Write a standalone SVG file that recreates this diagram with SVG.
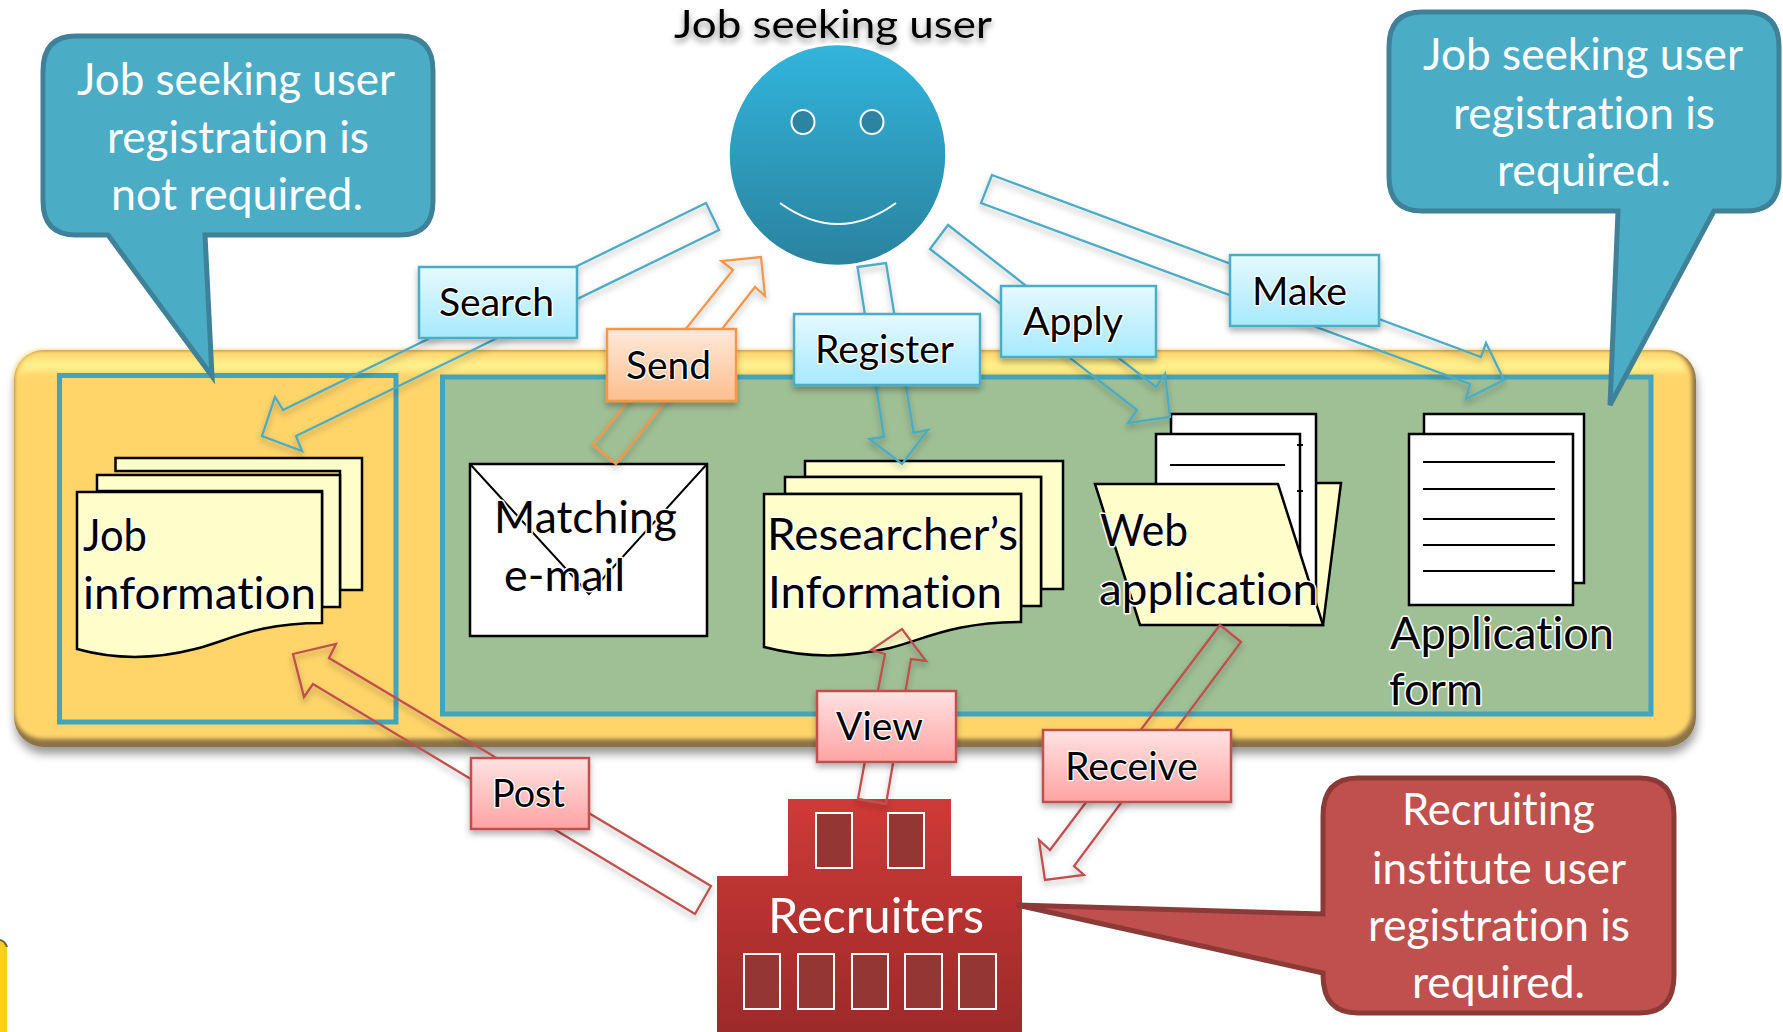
<svg xmlns="http://www.w3.org/2000/svg" width="1783" height="1032" viewBox="0 0 1783 1032">
<style>
text{font-family:Lato,"Open Sans","Liberation Sans",sans-serif;font-size:44px;font-variant-ligatures:none;transform:translateY(1px)}
.w{fill:#fff}
.k{fill:#000;stroke:#fff;stroke-width:3px;paint-order:stroke;stroke-linejoin:round}
.l{fill:#000;stroke:#fff;stroke-width:2.5px;paint-order:stroke;stroke-linejoin:round;font-size:38px}
.doc{fill:#FFFFCC;stroke:#000;stroke-width:2.5}
.pg{fill:#fff;stroke:#000;stroke-width:2.5}
.ln{fill:none;stroke:#000;stroke-width:2}
.ba{fill:none;stroke:#4BACC6;stroke-width:2.3;filter:url(#sh)}
.oa{fill:none;stroke:#F79646;stroke-width:2.3;filter:url(#sh)}
.ra{fill:none;stroke:#C0504D;stroke-width:2.3;filter:url(#sh)}
.bl{fill:url(#gb);stroke:#4BACC6;stroke-width:2.5;filter:url(#sh)}
.ol{fill:url(#go);stroke:#F79646;stroke-width:2.5;filter:url(#sh)}
.rl{fill:url(#gr);stroke:#C0504D;stroke-width:2.5;filter:url(#sh)}
.bc{fill:#4BACC6;stroke:#3F8198;stroke-width:5;stroke-linejoin:miter}
.win{fill:#943634;stroke:#fff;stroke-width:2}
</style>
<defs>
<filter id="sh" x="-20%" y="-20%" width="140%" height="140%"><feDropShadow dx="0" dy="4" stdDeviation="3" flood-color="#000" flood-opacity=".3"/></filter>
<filter id="psh" x="-3%" y="-5%" width="106%" height="115%"><feDropShadow dx="1" dy="7" stdDeviation="5" flood-color="#000" flood-opacity=".4"/></filter>
<filter id="soft" x="-2%" y="-5%" width="104%" height="110%"><feGaussianBlur stdDeviation="2"/></filter>
<filter id="ts" x="-10%" y="-30%" width="120%" height="170%"><feDropShadow dx="0" dy="4" stdDeviation="3" flood-color="#000" flood-opacity=".45"/></filter>
<linearGradient id="gb" x1="0" y1="0" x2="0" y2="1"><stop offset="0" stop-color="#E6F9FF"/><stop offset="1" stop-color="#A6E9FF"/></linearGradient>
<linearGradient id="go" x1="0" y1="0" x2="0" y2="1"><stop offset="0" stop-color="#FFE9DB"/><stop offset="1" stop-color="#FDBE8C"/></linearGradient>
<linearGradient id="gr" x1="0" y1="0" x2="0" y2="1"><stop offset="0" stop-color="#FFE2E2"/><stop offset="1" stop-color="#FFA3A3"/></linearGradient>
<linearGradient id="gf" x1="0" y1="0" x2="0" y2="1"><stop offset="0" stop-color="#31B5DC"/><stop offset="1" stop-color="#2A829E"/></linearGradient>
<linearGradient id="gy" x1="0" y1="0" x2="0" y2="1"><stop offset="0" stop-color="#FFD873"/><stop offset=".45" stop-color="#FFF38E"/><stop offset="1" stop-color="#FFD66B"/></linearGradient>
<linearGradient id="gd" x1="0" y1="0" x2="0" y2="1"><stop offset="0" stop-color="#CF3A37"/><stop offset="1" stop-color="#9C2A2A"/></linearGradient>
</defs>
<rect width="1783" height="1032" fill="#fff"/>
<path d="M0 941q5 1 7 7V1032H0Z" fill="#FCCF1E"/>
<path d="M0 940q5 1 7 7" fill="none" stroke="#6e6243" stroke-width="2"/>
<g transform="translate(0,1)">
<g id="panel">
<rect x="14" y="349" width="1682" height="397" rx="30" fill="#8C7345" filter="url(#psh)"/>
<rect x="14" y="349" width="1678" height="389" rx="28" fill="#FFD56B" filter="url(#soft)"/>
<path d="M18 378Q20 353 44 353H1664Q1682 353 1686 372H34Q24 372 18 378Z" fill="url(#gy)" filter="url(#soft)"/>
</g>
<g id="frame-open"><rect x="59.5" y="374.5" width="336.5" height="346.5" fill="none" stroke="#41A5C0" stroke-width="5"/></g>
<g id="frame-registered"><rect x="442.5" y="376" width="1208.5" height="337" fill="#9FBF95" stroke="#41A5C0" stroke-width="5"/></g>

<g id="job-information">
<path class="doc" d="M115.5 457H362V589H340V470H115.5Z"/>
<path class="doc" d="M97 474H340V606H322V490H97Z"/>
<path class="doc" d="M77 491H322V622C255 622 228 640 195 648C160 657 120 660 77 648Z"/>
<text class="k" x="83" y="549" textLength="64" lengthAdjust="spacingAndGlyphs">Job</text>
<text class="k" x="83" y="607" textLength="233" lengthAdjust="spacingAndGlyphs">information</text>
</g>
<g id="matching-email">
<rect class="pg" x="470" y="463" width="237" height="172" stroke-width="3"/>
<path class="ln" d="M470 463L589 593L707 463"/>
<text class="k" x="494" y="531" textLength="183" lengthAdjust="spacingAndGlyphs">Matching</text>
<text class="k" x="504" y="589" textLength="121" lengthAdjust="spacingAndGlyphs">e-mail</text>
</g>
<g id="researcher-information">
<path class="doc" d="M805 460H1063V588H1041V476H805Z"/>
<path class="doc" d="M785 476H1041V605H1021V493H785Z"/>
<path class="doc" d="M764 493H1021V621C955 621 925 638 890 647C850 656 810 658 764 646Z"/>
<text class="k" x="767" y="548" textLength="251" lengthAdjust="spacingAndGlyphs">Researcher’s</text>
<text class="k" x="768" y="606" textLength="234" lengthAdjust="spacingAndGlyphs">Information</text>
</g>
<g id="web-application">
<path class="doc" d="M1290 482H1341L1323 624H1290Z"/>
<rect class="pg" x="1171" y="413" width="145" height="190"/>
<rect class="pg" x="1156" y="433" width="144" height="170"/>
<path class="ln" d="M1170 464H1285M1297 444h6M1297 490h6"/>
<path class="doc" d="M1095 483H1278L1323 624H1140Z"/>
<text class="k" x="1100" y="544" textLength="88" lengthAdjust="spacingAndGlyphs">Web</text>
<text class="k" x="1099" y="603" textLength="219" lengthAdjust="spacingAndGlyphs">application</text>
</g>
<g id="application-form">
<rect class="pg" x="1424" y="413" width="160" height="169"/>
<rect class="pg" x="1409" y="433" width="164" height="171"/>
<path class="ln" d="M1423 461H1555M1423 488H1555M1423 518H1555M1423 544H1555M1423 570H1555"/>
<text class="k" x="1390" y="647" textLength="224" lengthAdjust="spacingAndGlyphs">Application</text>
<text class="k" x="1389" y="703" textLength="94" lengthAdjust="spacingAndGlyphs">form</text>
</g>

<g id="job-seeking-user">
<text x="674" y="36" textLength="318" lengthAdjust="spacingAndGlyphs" filter="url(#ts)" style="font-size:38px">Job seeking user</text>
<ellipse cx="837.5" cy="154" rx="109" ry="111" fill="url(#gf)" stroke="#fff" stroke-width="2.5"/>
<ellipse cx="803" cy="121" rx="11.5" ry="12" fill="#2C84A2" stroke="#fff" stroke-width="2"/>
<ellipse cx="872" cy="121" rx="11.5" ry="12" fill="#2C84A2" stroke="#fff" stroke-width="2"/>
<path d="M780 202Q838 244 896 202" fill="none" stroke="#fff" stroke-width="2"/>
</g>
<g id="recruiters">
<path d="M788 798H951V875H1022V1032H717V875H788Z" fill="url(#gd)"/>
<rect class="win" x="816" y="812" width="36" height="55"/>
<rect class="win" x="888" y="812" width="36" height="55"/>
<text class="w" x="768" y="931" textLength="216" lengthAdjust="spacingAndGlyphs" style="font-size:48px">Recruiters</text>
<rect class="win" x="744" y="953" width="36" height="55"/>
<rect class="win" x="798" y="953" width="36" height="55"/>
<rect class="win" x="852" y="953" width="36" height="55"/>
<rect class="win" x="905" y="953" width="37" height="55"/>
<rect class="win" x="959" y="953" width="37" height="55"/>
</g>

<g id="connectors">
<path class="ba" d="M706 202L283 409L275 396L262 435L302 450L296 435L719 229Z"/>
<path class="oa" d="M616 463L755 286L765 295L761 256L721.5 260L733 269L593 444Z"/>
<path class="ba" d="M857.5 266L886 262L913.6 432L928 429L902 463L869.5 438L884 436Z"/>
<path class="ba" d="M948 224L1156 386L1165 373L1170 416L1128 422L1137 409L930 248Z"/>
<path class="ba" d="M992 174L1481 356L1486 342L1504 379L1466 398L1470 383L981 202Z"/>
<path class="ra" d="M711 885L329 657L336 643L293 653L304 696L313 683L695 913Z"/>
<path class="ra" d="M858 798L878 689L885 653L871 649L902 628L926 660L911 658L886 803Z"/>
<path class="ra" d="M1220 624L1241 641L1074 865L1084 874L1045 879L1039 839L1050 849Z"/>
</g>

<g id="callout-open">
<path class="bc" d="M76 35H400Q433 35 433 70V200Q433 234 400 234H205L212 375L108 234H76Q43 234 43 200V70Q43 35 76 35Z"/>
<text class="w" x="77" y="93" textLength="318" lengthAdjust="spacingAndGlyphs">Job seeking user</text>
<text class="w" x="107" y="151" textLength="262" lengthAdjust="spacingAndGlyphs">registration is</text>
<text class="w" x="111" y="208" textLength="252" lengthAdjust="spacingAndGlyphs">not required.</text>
</g>
<g id="callout-required">
<path class="bc" d="M1422 11H1746Q1779 11 1779 46V176Q1779 210 1746 210H1714L1610 404L1618 210H1422Q1389 210 1389 176V46Q1389 11 1422 11Z"/>
<text class="w" x="1423" y="68" textLength="320" lengthAdjust="spacingAndGlyphs">Job seeking user</text>
<text class="w" x="1453" y="127" textLength="262" lengthAdjust="spacingAndGlyphs">registration is</text>
<text class="w" x="1497" y="184" textLength="174" lengthAdjust="spacingAndGlyphs">required.</text>
</g>
<g id="callout-recruiting">
<path d="M1358 777H1640Q1674 777 1674 815V974Q1674 1012 1640 1012H1358Q1323 1012 1323 974V972L1017 904L1323 913V815Q1323 777 1358 777Z" fill="#C0504D" stroke="#8C3A38" stroke-width="5"/>
<text class="w" x="1402" y="823" textLength="193" lengthAdjust="spacingAndGlyphs">Recruiting</text>
<text class="w" x="1372" y="882" textLength="254" lengthAdjust="spacingAndGlyphs">institute user</text>
<text class="w" x="1368" y="939" textLength="262" lengthAdjust="spacingAndGlyphs">registration is</text>
<text class="w" x="1412" y="996" textLength="173" lengthAdjust="spacingAndGlyphs">required.</text>
</g>

<g id="label-search"><rect class="bl" x="419" y="266" width="158" height="71"/><text class="l" x="439" y="314" textLength="115" lengthAdjust="spacingAndGlyphs">Search</text></g>
<g id="label-send"><rect class="ol" x="607" y="328" width="129" height="72"/><text class="l" x="626" y="377" textLength="85" lengthAdjust="spacingAndGlyphs">Send</text></g>
<g id="label-register"><rect class="bl" x="794" y="313" width="186" height="71"/><text class="l" x="815" y="361" textLength="139" lengthAdjust="spacingAndGlyphs">Register</text></g>
<g id="label-apply"><rect class="bl" x="1001" y="285" width="155" height="71"/><text class="l" x="1023" y="333" textLength="100" lengthAdjust="spacingAndGlyphs">Apply</text></g>
<g id="label-make"><rect class="bl" x="1230" y="254" width="149" height="71"/><text class="l" x="1252" y="303" textLength="95" lengthAdjust="spacingAndGlyphs">Make</text></g>
<g id="label-post"><rect class="rl" x="471" y="757" width="118" height="71"/><text class="l" x="492" y="805" textLength="73" lengthAdjust="spacingAndGlyphs">Post</text></g>
<g id="label-view"><rect class="rl" x="817" y="690" width="139" height="71"/><text class="l" x="836" y="738" textLength="87" lengthAdjust="spacingAndGlyphs">View</text></g>
<g id="label-receive"><rect class="rl" x="1043" y="729" width="188" height="72"/><text class="l" x="1065" y="778" textLength="133" lengthAdjust="spacingAndGlyphs">Receive</text></g>
</g>
</svg>
